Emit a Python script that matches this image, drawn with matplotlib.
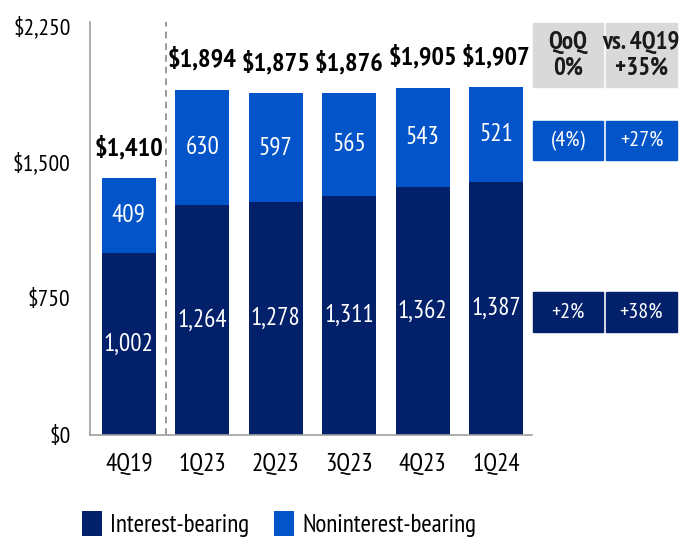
"""
Deposits by quarter, stacked bars
"""

import matplotlib
matplotlib.use("Agg")
import matplotlib.pyplot as plt
from matplotlib.patches import Rectangle

plt.rcParams['font.family'] = ['PT Sans Narrow', 'Asap Condensed', 'DejaVu Sans']

quarters = ["4Q19", "1Q23", "2Q23", "3Q23", "4Q23", "1Q24"]
interest = [1002, 1264, 1278, 1311, 1362, 1387]
noninterest = [409, 630, 597, 565, 543, 521]
totals = [1410, 1894, 1875, 1876, 1905, 1907]
yticks = [0, 750, 1500, 2250]

# side table
head_cells = ["QoQ\n0%", "vs. 4Q19\n+35%"]
nonint_cells = ["(4%)", "+27%"]
int_cells = ["+2%", "+38%"]

NAVY = "#03206b"
BLUE = "#0254c8"
GREY = "#d9d9d9"

fig = plt.figure(figsize=(6.79, 5.42), dpi=100)
ax = fig.add_axes([0.1325, 0.197, 0.651, 0.763])

x = list(range(len(quarters)))
w = 0.735
ax.bar(x, interest, width=w, color=NAVY, label="Interest-bearing")
ax.bar(x, noninterest, width=w, bottom=interest, color=BLUE, label="Noninterest-bearing")

for i in x:
    ax.text(i, interest[i] / 2, f"{interest[i]:,}", ha="center", va="center",
            color="white", fontsize=18)
    ax.text(i, interest[i] + noninterest[i] / 2, f"{noninterest[i]:,}", ha="center",
            va="center", color="white", fontsize=18)
    ax.annotate(f"${totals[i]:,}", (i, totals[i]), xytext=(0, 13),
                textcoords="offset points", ha="center", va="bottom",
                fontsize=19, fontweight="bold", color="black")

ax.axvline(0.5, color="#888888", linestyle=(0, (4, 3)), linewidth=1.2)

ax.set_xlim(-0.53, 5.49)
ax.set_ylim(0, 2268)
ax.set_xticks(x)
ax.set_xticklabels(quarters, fontsize=18)
ax.set_yticks(yticks)
ax.set_yticklabels([f"${v:,}" for v in yticks], fontsize=17)
ax.tick_params(axis="y", length=0, pad=14)
ax.tick_params(axis="x", length=0, pad=13)
ax.spines[["top", "right"]].set_visible(False)
for s in ["left", "bottom"]:
    ax.spines[s].set_color("#a0a0a0")
    ax.spines[s].set_linewidth(1.2)

# side table in figure pixels
W, H = 679, 542
cols = [(533, 603), (606, 677)]


def cell(x0, x1, y0, y1, color, text, tcolor, bold=False, size=16):
    fig.patches.append(Rectangle((x0 / W, 1 - y1 / H), (x1 - x0) / W, (y1 - y0) / H,
                                 transform=fig.transFigure, color=color))
    fig.text((x0 + x1) / 2 / W, 1 - (y0 + y1) / 2 / H, text, ha="center", va="center",
             color=tcolor, fontsize=size, fontweight="bold" if bold else "normal",
             linespacing=1.15)


for (c0, c1), t in zip(cols, head_cells):
    cell(c0, c1, 23, 87, GREY, t, "#1a1a1a", bold=True, size=18)
for (c0, c1), t in zip(cols, nonint_cells):
    cell(c0, c1, 121, 160, BLUE, t, "white")
for (c0, c1), t in zip(cols, int_cells):
    cell(c0, c1, 292, 332, NAVY, t, "white")

fig.legend(loc="lower left", bbox_to_anchor=(0.121, 0.009), ncol=2, frameon=False,
           fontsize=18, handlelength=0.8, handleheight=1.16, columnspacing=1.0,
           handletextpad=0.32, borderpad=0, borderaxespad=0)

fig.savefig("out.png", dpi=100)
